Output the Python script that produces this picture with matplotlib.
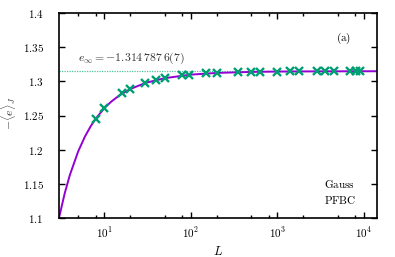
import numpy as np
import matplotlib.pyplot as plt
from matplotlib.ticker import FixedLocator, NullFormatter

plt.rcParams['mathtext.fontset'] = 'cm'
plt.rcParams['font.family'] = 'serif'
plt.rcParams['font.serif'] = ['DejaVu Serif']

# measured points (system size L, -<e>/J)
L_data = [8, 10, 16, 20, 30, 40, 50, 80, 96, 150, 200, 350, 500, 630,
          1000, 1400, 1800, 2900, 3600, 4500, 7000, 8100, 9100]
e_data = [1.2455, 1.2605, 1.2825, 1.2890, 1.2980, 1.3020, 1.3052, 1.3090,
          1.3098, 1.3115, 1.3124, 1.3134, 1.3138, 1.3140, 1.3143, 1.3144,
          1.3145, 1.3146, 1.3146, 1.3147, 1.3147, 1.3147, 1.3147]

# fit curve
L_fit = [3, 3.5, 4, 5, 6, 7, 8, 10, 12, 15, 20, 30, 50, 100, 200, 500,
         1000, 3000, 15000]
e_fit = [1.1000, 1.1366, 1.1627, 1.1975, 1.2195, 1.2346, 1.2456, 1.2605,
         1.2701, 1.2796, 1.2887, 1.2977, 1.3046, 1.3098, 1.3123, 1.3138,
         1.3143, 1.3146, 1.3148]

e_inf = 1.3147876

fig = plt.figure(figsize=(3.95, 2.57), dpi=100)
ax = fig.add_axes([59/395, 1 - 218/257, 318/395, 205/257])

ax.axhline(e_inf, color='#4cc4a0', lw=0.9, ls=(0, (1, 1)), zorder=1)
ax.plot(L_fit, e_fit, color='#9400d3', lw=1.4, zorder=2)
ax.plot(L_data, e_data, ls='none', marker='x', ms=5.5, mew=1.7,
        color='#009e73', zorder=3)

ax.set_xscale('log')
ax.set_xlim(3, 14250)
ax.set_ylim(1.1, 1.4)

yt = [1.1, 1.15, 1.2, 1.25, 1.3, 1.35, 1.4]
ax.set_yticks(yt)
ax.set_yticklabels(['$%g$' % v for v in yt])
ax.xaxis.set_major_locator(FixedLocator([10, 100, 1000, 10000]))
ax.set_xticklabels(['$10^{1}$', '$10^{2}$', '$10^{3}$', '$10^{4}$'])
minors = [m * 10**k for k in range(0, 4) for m in (2, 5, 8)]
ax.xaxis.set_minor_locator(FixedLocator(minors))
ax.xaxis.set_minor_formatter(NullFormatter())

ax.tick_params(which='both', direction='in', top=True, right=True,
               labelsize=8, width=1.0)
ax.tick_params(axis='y', pad=11)
ax.tick_params(axis='x', pad=5)
ax.tick_params(which='major', length=4)
ax.tick_params(which='minor', length=2)
for s in ax.spines.values():
    s.set_linewidth(1.2)

ax.set_xlabel('$L$', fontsize=9, labelpad=4)
fig.text(9/395, 1 - 113/257, r'$-\langle e\rangle_J$', rotation=90,
         fontsize=8.5, ha='center', va='center', color='#333333')

ax.text(78/395, 1 - 58/257, r'$e_\infty = -1.314\,787\,6(7)$', fontsize=8.5,
        transform=fig.transFigure, ha='left', va='center', color='#333333')
ax.text(344/395, 1 - 38/257, r'$\mathrm{(a)}$', fontsize=8,
        transform=fig.transFigure, ha='center', va='center')
ax.text(324/395, 1 - 184/257, r'$\mathrm{Gauss}$', fontsize=8,
        transform=fig.transFigure, ha='left', va='center')
ax.text(324/395, 1 - 200/257, r'$\mathrm{PFBC}$', fontsize=8,
        transform=fig.transFigure, ha='left', va='center')

fig.savefig('out.png', dpi=100)
